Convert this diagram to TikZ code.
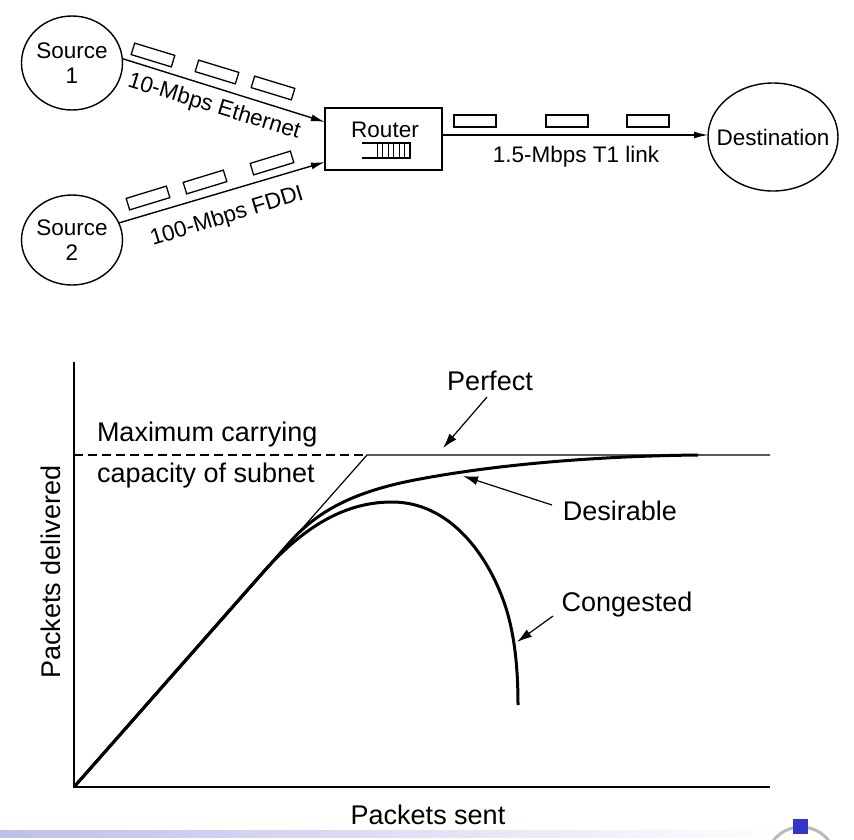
\documentclass[tikz,border=0pt]{standalone}
\usepackage{fontspec}
\setmainfont{Liberation Sans}
\usetikzlibrary{shapes.geometric,arrows.meta}
\definecolor{iconblue}{RGB}{52,52,200}
\definecolor{barblue}{RGB}{190,190,236}
\begin{document}
\begin{tikzpicture}[x=1pt,y=-1pt,
  every node/.style={inner sep=0pt, outer sep=0pt},
  topfont/.style={font=\fontsize{22.5}{25}\selectfont},
  grfont/.style={font=\fontsize{27}{30}\selectfont},
  endpt/.style={ellipse, draw, line width=1.4pt, align=center, topfont},
  pkt/.style={draw, line width=1.3pt, minimum width=42pt, minimum height=12pt},
  link/.style={line width=1.4pt, -{Latex[length=14pt,width=7pt]}},
  perfline/.style={line width=1.2pt},
  thickcurve/.style={line width=3pt},
  pointer/.style={line width=1.2pt, -{Latex[length=15pt,width=9pt]}},
]
\useasboundingbox (0,0) rectangle (854,839);

% ---------- top: network ----------
\node[endpt, minimum width=101pt, minimum height=94pt] (s1) at (72,63) {Source\\1};
\node[endpt, minimum width=101pt, minimum height=90pt] (s2) at (72,240) {Source\\2};
\node[draw, line width=1.4pt, minimum width=117pt, minimum height=62pt] (router) at (383.5,139) {};
\node[topfont] (rtxt) at (385,130) {Router};
\draw[line width=1.3pt] (362,143) -- (410,143) -- (410,158) -- (362,158);
\foreach \x in {377,382.5,...,405} \draw[line width=1pt] (\x,143) -- (\x,158);
\node[ellipse, draw, line width=1.4pt, minimum width=130pt, minimum height=108pt, topfont] (dest) at (773,137) {\makebox[0pt]{Destination}};

\draw[link] (s1.5) -- ([yshift=17pt]router.west);
\draw[link] (s2.20) -- ([yshift=-23pt]router.west);
\draw[link] ([yshift=4pt]router.east) -- ([yshift=2pt]dest.west);

\node[pkt, rotate=-17] (e1) at (153,55) {};
\node[pkt, rotate=-17] (e2) at (217,72) {};
\node[pkt, rotate=-17] (e3) at (273,88) {};
\node[pkt, rotate=17] (f1) at (148,198) {};
\node[pkt, rotate=17] (f2) at (205,182) {};
\node[pkt, rotate=17] (f3) at (272,163) {};
\node[pkt] (t1) at (475,121) {};
\node[pkt] (t2) at (567,121) {};
\node[pkt] (t3) at (648,121) {};

\node[topfont, rotate=-17] (leth) at (214,107) {10-Mbps Ethernet};
\node[topfont, rotate=17] (lfddi) at (227,217) {100-Mbps FDDI};
\node[topfont] (lt1) at (576,157) {1.5-Mbps T1 link};

% ---------- bottom: graph ----------
\coordinate (O) at (74,787);
\coordinate (ytop) at (74,362);
\coordinate (xend) at (770,787);
\coordinate (knee) at (367,455);
\coordinate (capL) at (74,455);
\coordinate (capR) at (770,455);
\draw[perfline] (ytop) -- (O) -- (xend);
\draw[perfline, dash pattern=on 9pt off 5pt] (capL) -- (knee);
\draw[perfline] (O) -- (knee) -- (capR);

\draw[thickcurve] (O) -- (290,542) .. controls (320,508) and (360,490) .. (420,479)
  .. controls (500,464) and (600,456) .. (698,455);
\draw[thickcurve] (O) -- (265,570) .. controls (300,532) and (340,502) .. (392,502)
  .. controls (450,502) and (488,555) .. (505,605)
  .. controls (515,635) and (518,670) .. (518,705);

\node[grfont, anchor=west] (maxc) at (97,435) {Maximum carrying};
\node[grfont, anchor=west] (capsub) at (97,476) {capacity of subnet};
\node[grfont] (lperf) at (490,381) {Perfect};
\node[grfont] (ldes) at (620,511) {Desirable};
\node[grfont] (lcong) at (627,605) {Congested};
\node[grfont, rotate=90] (ylab) at (51,572) {Packets delivered};
\node[grfont] (xlab) at (428,815) {Packets sent};

\coordinate (perftail) at (487,397);
\coordinate (perftip) at (443,448);
\coordinate (destail) at (552,505);
\coordinate (destip) at (463,476);
\coordinate (congtail) at (553,616);
\coordinate (congtip) at (517,642);
\draw[pointer] (perftail) -- (perftip);
\draw[pointer] (destail) -- (destip);
\draw[pointer] (congtail) -- (congtip);

% ---------- slide artefacts ----------
\shade[left color=barblue, right color=white] (0,830) rectangle (790,837);
\draw[gray!55, line width=3pt] (801,862) circle[radius=35];
\fill[iconblue] (793,819) rectangle (808,834);
\end{tikzpicture}
\end{document}
